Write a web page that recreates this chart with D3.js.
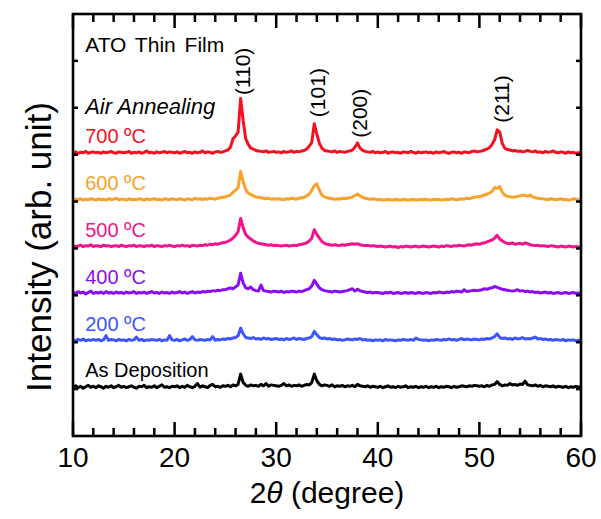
<!DOCTYPE html>
<html>
<head>
<meta charset="utf-8">
<script src="https://cdn.jsdelivr.net/npm/d3@7"></script>
<style>
  body { margin: 0; background: #fff; }
  svg { display: block; font-family: "Liberation Sans", Arial, sans-serif; }
</style>
</head>
<body>
<svg id="chart" width="601" height="519"></svg>
<script>
// scan grid: 10 to 60 deg, 0.25 deg per step
const twoThetaStart = 10;
const twoThetaStep = 0.25;

// intensities above each baseline, in hundredths of one y tick
const int700 = [
  4,6,3,5,4,7,3,5,6,4,5,3,6,4,5,7,4,3,6,5,
  4,5,7,3,5,4,6,3,5,8,4,5,3,6,4,5,7,4,6,5,
  4,6,3,5,7,4,5,3,6,4,5,8,4,6,5,3,6,7,5,6,
  8,10,16,34,40,48,120,72,34,22,14,12,9,8,7,6,8,5,6,7,
  5,6,4,7,5,6,8,5,7,6,8,9,12,18,26,66,44,24,14,9,
  8,7,6,8,5,7,6,5,7,8,10,16,25,14,9,7,6,5,7,4,
  6,4,5,7,3,5,6,4,5,3,6,5,4,7,5,3,6,4,5,6,
  4,5,3,6,4,5,7,4,3,5,6,4,5,3,6,5,4,7,8,6,
  7,8,10,12,15,22,32,53,48,24,14,11,10,8,9,7,8,6,7,9,
  7,6,8,5,6,4,7,5,6,8,5,4,6,5,3,6,4,5,3,4,
  5
];
const int600 = [
  3,5,4,6,3,5,4,6,5,3,6,4,5,3,6,4,5,7,4,5,
  5,3,6,4,5,4,6,5,3,6,4,5,6,4,5,3,6,5,4,6,
  5,4,6,5,3,6,5,4,7,5,6,4,6,5,7,6,5,7,8,9,
  10,12,14,20,24,30,64,42,26,18,15,12,10,9,8,7,6,7,5,6,
  5,6,5,4,6,5,7,6,5,7,8,9,12,16,24,34,38,24,14,10,
  8,7,6,5,6,5,7,6,7,8,10,13,16,12,9,7,6,5,6,5,
  4,5,3,4,5,4,3,5,4,3,5,4,3,4,5,3,4,5,4,5,
  4,3,5,4,5,3,4,5,4,6,5,4,5,6,5,7,6,8,9,10,
  10,12,14,16,18,22,30,28,32,20,14,11,10,9,10,11,12,14,13,11,
  14,10,8,7,6,6,5,4,6,5,4,5,6,4,5,3,4,6,5,4,
  4
];
const int500 = [
  6,4,5,7,4,6,5,8,4,6,5,4,7,5,6,4,5,6,4,7,
  5,4,6,5,7,4,6,5,4,6,5,7,4,6,5,4,6,5,7,5,
  4,6,5,7,5,6,4,7,6,5,7,6,8,7,9,8,10,9,11,12,
  13,15,18,22,28,36,64,44,30,24,20,16,13,11,10,9,8,7,8,6,
  7,6,5,6,7,5,6,7,6,8,9,10,12,16,22,40,30,22,15,11,
  9,8,7,8,7,6,8,7,8,9,10,9,10,8,7,6,7,5,6,5,
  4,5,4,3,4,5,3,4,2,4,3,5,4,3,4,5,3,4,5,4,
  3,4,5,4,3,5,4,6,5,4,6,5,7,6,5,7,8,7,9,10,
  9,11,12,14,16,18,22,28,20,16,13,11,10,12,9,10,11,9,12,10,
  8,7,6,7,5,6,5,4,6,5,4,3,5,4,3,5,4,3,4,3,
  3
];
const int400 = [
  6,4,8,5,7,3,6,9,4,6,5,7,4,8,5,6,4,7,5,6,
  4,7,5,6,8,4,6,5,7,4,6,8,5,6,4,7,5,6,4,7,
  5,6,8,5,7,4,6,8,5,7,6,8,7,9,8,10,9,11,10,12,
  12,14,16,14,18,22,47,26,16,14,18,12,10,9,22,10,9,8,7,9,
  8,7,9,6,8,7,9,8,7,9,8,10,12,14,20,32,24,16,12,10,
  9,8,7,9,8,7,8,9,10,12,14,9,13,10,8,7,6,7,5,6,
  6,5,4,6,5,7,4,5,6,4,5,6,4,6,5,4,6,5,4,6,
  5,4,6,5,7,6,5,7,6,8,7,9,8,7,12,8,9,10,11,10,
  11,12,14,13,15,16,19,17,15,13,12,11,10,9,10,12,9,10,8,9,
  7,8,6,7,5,6,7,5,6,4,5,6,4,5,6,4,5,6,4,5,
  5
];
const int200 = [
  5,3,6,4,7,3,5,4,6,4,6,3,5,14,4,6,5,3,6,4,
  5,3,6,4,5,11,4,6,3,5,4,6,5,4,6,3,5,4,14,5,
  4,6,3,5,7,4,6,12,5,4,6,5,4,6,5,12,4,6,5,7,
  6,8,7,9,10,14,30,18,10,9,8,10,7,8,6,9,7,8,6,7,
  8,6,7,5,8,6,7,9,6,8,7,6,8,9,12,23,16,10,8,9,
  7,8,6,7,5,6,4,5,7,6,5,7,6,8,5,6,4,5,3,5,
  4,5,3,6,4,5,4,3,5,4,6,5,4,6,4,9,6,5,4,5,
  3,5,4,6,5,4,6,5,7,5,6,4,6,8,5,7,6,5,7,6,
  5,7,6,8,7,9,12,18,10,8,9,7,8,6,9,7,8,10,7,8,
  7,9,11,7,8,6,7,5,6,4,6,5,4,6,3,5,4,5,3,4,
  4
];
const intAsDep = [
  4,7,3,6,2,5,8,4,6,3,7,5,2,6,4,7,3,5,8,4,
  6,3,5,7,4,2,6,5,8,3,5,4,7,3,6,9,4,5,3,6,
  5,7,3,6,4,8,5,3,6,12,4,7,5,3,8,10,5,6,4,7,
  6,8,5,9,7,10,32,14,8,6,9,7,8,6,10,7,12,6,9,8,
  7,6,8,12,7,9,6,8,7,9,6,8,10,9,14,32,18,10,7,9,
  8,6,9,5,7,6,8,5,7,6,8,5,10,7,6,5,7,4,6,5,
  4,6,3,5,7,4,5,3,6,4,5,7,3,5,4,6,3,5,4,6,
  3,5,4,6,3,5,4,6,5,3,6,4,5,7,6,5,7,6,8,7,
  6,7,5,8,6,9,10,16,10,7,9,8,12,9,10,8,11,10,17,9,
  8,7,9,6,8,5,7,6,5,7,4,6,5,4,6,3,5,4,6,4,
  5
];

const seriesNames = ["700 \u00baC", "600 \u00baC", "500 \u00baC", "400 \u00baC", "200 \u00baC", "As Deposition"];
const seriesValues = [int700, int600, int500, int400, int200, intAsDep];
const seriesOffsets = [6, 5, 4, 3, 2, 1];
const seriesColors = ["#f5101f", "#f9a12a", "#f2148c", "#8a0cf5", "#3c55ff", "#000000"];

const peakLabels = ["(110)", "(101)", "(200)", "(211)"];
const peakTheta = [26.7, 34.1, 38.2, 52.2];
const peakLabelY = [7.27, 6.8, 6.36, 6.68];

const xTicks = [10, 20, 30, 40, 50, 60];
const xMinorTicks = [12, 14, 16, 18, 22, 24, 26, 28, 32, 34, 36, 38, 42, 44, 46, 48, 52, 54, 56, 58];
const yTicks = [1, 2, 3, 4, 5, 6, 7, 8];

const svg = d3.select("#chart");
const plotL = 73, plotR = 581, plotT = 14, plotB = 436;
const x = d3.scaleLinear().domain([10, 60]).range([plotL, plotR]);
const y = d3.scaleLinear().domain([0, 9]).range([plotB, plotT]);

// traces
const line = d3.line()
  .x((d, i) => x(twoThetaStart + i * twoThetaStep))
  .y(d => d);

seriesValues.forEach(function(vals, k) {
  const pts = vals.map(v => y(seriesOffsets[k] + v / 100));
  svg.append("path")
    .attr("d", line(pts))
    .attr("fill", "none")
    .attr("stroke", seriesColors[k])
    .attr("stroke-width", 3)
    .attr("stroke-linejoin", "round");
});

svg.append("rect")
  .attr("x", plotL).attr("y", plotT)
  .attr("width", plotR - plotL).attr("height", plotB - plotT)
  .attr("fill", "none").attr("stroke", "#000").attr("stroke-width", 2.6);

// ticks, all pointing inward, as small filled bars
const tickG = svg.append("g").attr("fill", "#000");
function xTickBars(vals, len) {
  tickG.selectAll(null).data(vals).join("rect")
    .attr("x", d => x(d) - 1.25).attr("y", plotB - len)
    .attr("width", 2.5).attr("height", len);
  tickG.selectAll(null).data(vals).join("rect")
    .attr("x", d => x(d) - 1.25).attr("y", plotT)
    .attr("width", 2.5).attr("height", len);
}
xTickBars(xMinorTicks, 8);
xTickBars(xTicks, 14);
tickG.selectAll(null).data(yTicks).join("rect")
  .attr("x", plotL).attr("y", d => y(d) - 1.25)
  .attr("width", 5).attr("height", 2.5);
tickG.selectAll(null).data(yTicks).join("rect")
  .attr("x", plotR - 5).attr("y", d => y(d) - 1.25)
  .attr("width", 5).attr("height", 2.5);

svg.selectAll(null).data(xTicks).join("text")
  .attr("x", d => x(d)).attr("y", 467)
  .attr("text-anchor", "middle").attr("font-size", 28).attr("fill", "#000")
  .text(d => d);

// series labels
seriesNames.forEach(function(name, k) {
  svg.append("text")
    .attr("x", x(11.2))
    .attr("y", y(seriesOffsets[k] + 0.25))
    .attr("font-size", 20)
    .attr("fill", seriesColors[k])
    .text(name);
});

svg.append("text").attr("x", x(11.2)).attr("y", 52)
  .attr("font-size", 21).attr("word-spacing", 3).attr("fill", "#000").text("ATO Thin Film");
svg.append("text").attr("x", x(11.2)).attr("y", 114)
  .attr("font-size", 22).attr("font-style", "italic").attr("fill", "#000").text("Air Annealing");

// peak indices
peakLabels.forEach(function(lab, k) {
  svg.append("text")
    .attr("transform", `translate(${x(peakTheta[k])},${y(peakLabelY[k])}) rotate(-90)`)
    .attr("dy", "0.35em")
    .attr("font-size", 21)
    .attr("fill", "#000")
    .text(lab);
});

// axis titles
const xt = svg.append("text")
  .attr("x", (plotL + plotR) / 2).attr("y", 503)
  .attr("text-anchor", "middle").attr("font-size", 30).attr("fill", "#000");
xt.append("tspan").text("2");
xt.append("tspan").attr("font-style", "italic").text("\u03b8");
xt.append("tspan").text(" (degree)");

svg.append("text")
  .attr("transform", "translate(51,247) rotate(-90)")
  .attr("text-anchor", "middle").attr("font-size", 35).attr("fill", "#000")
  .text("Intensity (arb. unit)");
</script>
</body>
</html>
